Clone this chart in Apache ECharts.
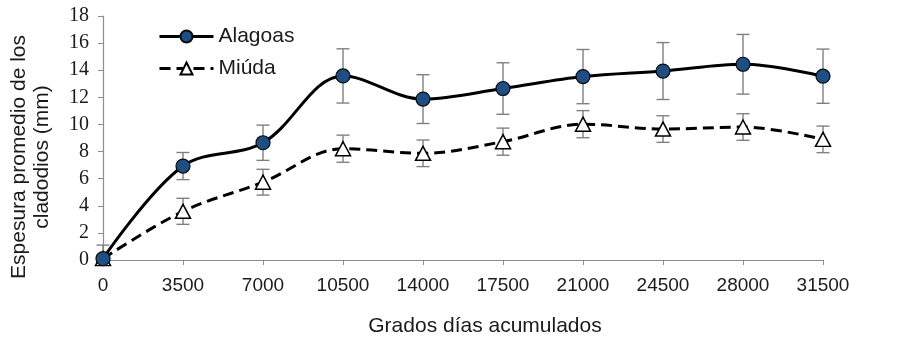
<!DOCTYPE html>
<html>
<head>
<meta charset="utf-8">
<script src="https://cdn.jsdelivr.net/npm/echarts@6/dist/echarts.min.js"></script>
<style>
html,body{margin:0;padding:0;background:#fff;}
#chart{width:900px;height:341px;}
</style>
</head>
<body>
<div id="chart"></div>
<script>
// data
var gradosDias = [0, 3500, 7000, 10500, 14000, 17500, 21000, 24500, 28000, 31500];
var alagoas    = [0.1, 6.93, 8.65, 13.58, 11.87, 12.65, 13.53, 13.94, 14.44, 13.56];
var alagoasErr = [1.0, 1.0, 1.3, 2.0, 1.8, 1.9, 2.0, 2.1, 2.2, 2.0];
var miuda      = [0.1, 3.59, 5.74, 8.21, 7.87, 8.73, 10.02, 9.66, 9.81, 8.90];
var miudaErr   = [0.3, 0.96, 0.95, 1.0, 0.98, 1.0, 1.0, 0.98, 0.98, 0.98];
var xTicks = { min: 0, max: 31500, interval: 3500 };
var yTicks = { min: 0, max: 18, interval: 2 };

function pairs(vals) {
    var out = [];
    for (var i = 0; i < gradosDias.length; i++) {
        out.push([gradosDias[i], vals[i]]);
    }
    return out;
}
function errRows(vals, errs) {
    var out = [];
    for (var i = 0; i < gradosDias.length; i++) {
        out.push([gradosDias[i], vals[i] - errs[i], vals[i] + errs[i]]);
    }
    return out;
}

// error bar drawn through the axis scales
function renderErr(params, api) {
    var x = api.value(0);
    var lo = api.coord([x, Math.max(api.value(1), 0)]);
    var hi = api.coord([x, api.value(2)]);
    var w = 6.5;
    var st = { stroke: '#808080', lineWidth: 1.4 };
    return {
        type: 'group',
        children: [
            { type: 'line', shape: { x1: hi[0], y1: hi[1], x2: lo[0], y2: lo[1] }, style: st },
            { type: 'line', shape: { x1: hi[0] - w, y1: hi[1], x2: hi[0] + w, y2: hi[1] }, style: st },
            { type: 'line', shape: { x1: lo[0] - w, y1: lo[1], x2: lo[0] + w, y2: lo[1] }, style: (api.value(1) > 0 ? st : { stroke: 'transparent' }) }
        ]
    };
}

var myChart = echarts.init(document.getElementById('chart'));
var txt = '#1a1a1a';
var option = {
    backgroundColor: '#fff',
    animation: false,
    grid: { left: 103, right: 77, top: 16, bottom: 81 },
    legend: {
        orient: 'vertical',
        left: 153,
        top: 21,
        itemWidth: 54,
        itemHeight: 15,
        itemGap: 11,
        lineStyle: { width: 3 },
        textStyle: { fontFamily: 'Liberation Sans, Arial', fontSize: 21, color: txt },
        data: ['Alagoas', 'Miúda']
    },
    xAxis: {
        type: 'value',
        min: xTicks.min, max: xTicks.max, interval: xTicks.interval,
        splitLine: { show: false },
        axisLine: { lineStyle: { color: '#8c8c8c', width: 1.2 } },
        axisTick: { show: true, length: 5, lineStyle: { color: '#8c8c8c' } },
        axisLabel: {
            fontFamily: 'Liberation Sans, Arial', fontSize: 19, color: txt, margin: 16,
            formatter: function (v) { return String(v); }
        }
    },
    yAxis: {
        type: 'value',
        min: yTicks.min, max: yTicks.max, interval: yTicks.interval,
        splitLine: { show: false },
        axisLine: { show: true, lineStyle: { color: '#8c8c8c', width: 1.2 } },
        axisTick: { show: true, length: 5, lineStyle: { color: '#8c8c8c' } },
        axisLabel: { fontFamily: 'Liberation Serif, Times New Roman, serif', fontSize: 20, color: txt, margin: 14 }
    },
    graphic: [
        {
            type: 'text', x: 31, y: 157, rotation: Math.PI / 2,
            style: {
                text: 'Espesura promedio de los\ncladodios (mm)',
                fontFamily: 'Liberation Sans, Arial', fontSize: 21, lineHeight: 23,
                fill: txt, align: 'center', verticalAlign: 'middle'
            }
        },
        {
            type: 'text', x: 485, y: 326,
            style: {
                text: 'Grados días acumulados',
                fontFamily: 'Liberation Sans, Arial', fontSize: 21,
                fill: txt, align: 'center', verticalAlign: 'middle'
            }
        }
    ],
    series: [
        {
            type: 'custom', name: 'errA', renderItem: renderErr,
            data: errRows(alagoas, alagoasErr), z: 1, silent: true
        },
        {
            type: 'custom', name: 'errM', renderItem: renderErr,
            data: errRows(miuda, miudaErr), z: 1, silent: true
        },
        {
            name: 'Alagoas', type: 'line', smooth: 0.35, z: 3,
            data: pairs(alagoas),
            symbol: 'circle', symbolSize: 14,
            lineStyle: { color: '#000', width: 3 },
            itemStyle: { color: '#1f4e85', borderColor: '#0a0a0a', borderWidth: 1.2 }
        },
        {
            name: 'Miúda', type: 'line', smooth: 0.35, z: 2,
            data: pairs(miuda),
            symbol: 'triangle', symbolSize: [15, 14],
            lineStyle: { color: '#000', width: 3, type: [11, 6] },
            itemStyle: { color: '#fff', borderColor: '#000', borderWidth: 1.5 }
        }
    ]
};
myChart.setOption(option);
</script>
</body>
</html>
